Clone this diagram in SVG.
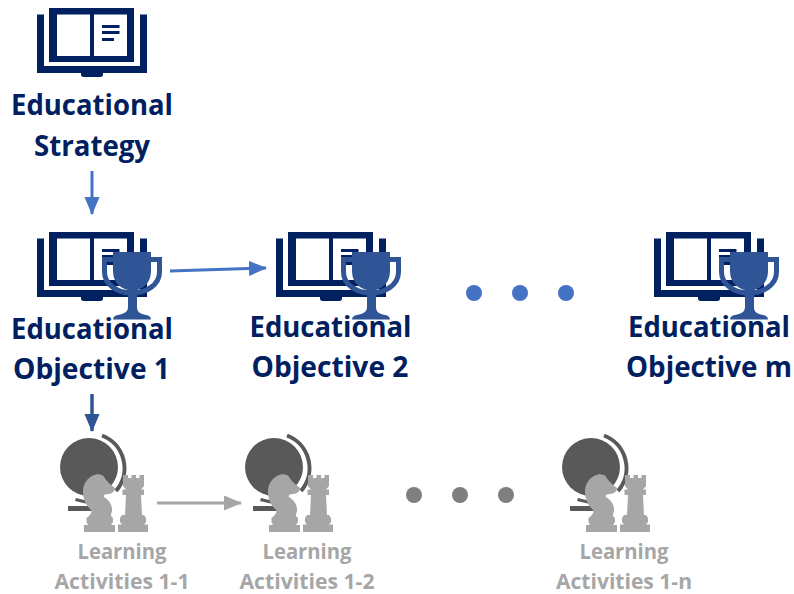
<svg xmlns="http://www.w3.org/2000/svg" width="794" height="594" viewBox="0 0 794 594">
<style>
text{font-family:"Open Sans","Noto Sans",sans-serif;font-weight:700;text-anchor:middle}
.t{font-size:28px;fill:#002060}
.l{font-size:20.500px;fill:#a6a6a6}
.nv{fill:#002060}
.bl{fill:#2f5597}
.dg{fill:#595959}
.lg{fill:#a6a6a6}
</style>
<defs>
<marker id="a1" markerUnits="userSpaceOnUse" markerWidth="20" markerHeight="16" refX="17" refY="7.500" orient="auto"><path d="M0 0L18 7.500L0 15Z" fill="#4472c4"/></marker>
<marker id="a2" markerUnits="userSpaceOnUse" markerWidth="20" markerHeight="16" refX="17" refY="7.500" orient="auto"><path d="M0 0L18 7.500L0 15Z" fill="#2f5597"/></marker>
<marker id="a3" markerUnits="userSpaceOnUse" markerWidth="20" markerHeight="16" refX="17" refY="7.500" orient="auto"><path d="M0 0L18 7.500L0 15Z" fill="#a6a6a6"/></marker>
<g id="book">
<path class="nv" fill-rule="evenodd" d="M49 8H134V62H49ZM57 14.500V56H90V14.500ZM94 14.500V56H127V14.500Z"/>
<path class="nv" d="M37 14.500H44V66H140V14.500H147V73H103V74.500Q103 77 100 77H84Q81 77 81 74.500V73H37Z"/>
<path class="nv" d="M102 25H119.500V28H102ZM102 31H119.500V34H102ZM102 38H114V41H102Z"/>
</g>
<g id="cup">
<path class="bl" d="M113 252H151V271C151 281 145 288 137 290V307C137 312 140 314 146 315C149 315.500 151 317 151 319.500H113C113 317 115 315.500 118 315C124 314 128 312 128 307V290C119 288 113 281 113 271Z"/>
<path fill="none" stroke="#2f5597" stroke-width="5" d="M113 259.500H104.500V272C104.500 285 118 293 132 293C146 293 159.500 285 159.500 272V259.500H151"/>
</g>
<g id="obj"><use href="#book" y="224"/><use href="#cup"/></g>
<g id="act">
<circle class="dg" cx="89" cy="467" r="29"/>
<path fill="none" stroke="#595959" stroke-width="4" d="M102 435.500A35 35 0 0 1 116 491"/>
<path class="dg" d="M68 506H92V511H68ZM76 498L92 502V505L75 501Z"/>
<path class="lg" d="M84 532V525H88L86.500 522V518L89 516C91 514 92 512 91 510C86 505 83 500 83 491C83 482 90 475 98 474L103 475.500C106 481 111 485 115 488C115 491 112 494 108 494C105 494 103 495 104 497C109 500 112.500 505 112 511C111.500 513 111 514 111 516L113 518V522L111 525H115V532Z"/>
<path class="lg" d="M123 475H128V478H131.500V475H136V478H139.500V475H144V486L141 489.500H144V495H141L142 515H144L146 518V522L144 524.500H148V532H118V524.500H122L120 522V518L122 515H125L126 495H122.500V489.500H126L123 486Z"/>
</g>
</defs>
<g id="connectors">
<path d="M92 171V214" stroke="#4472c4" stroke-width="3" marker-end="url(#a1)" fill="none"/>
<path d="M170 271L266 268" stroke="#4472c4" stroke-width="3" marker-end="url(#a1)" fill="none"/>
<path d="M92 394V431" stroke="#2f5597" stroke-width="3.500" marker-end="url(#a2)" fill="none"/>
<path d="M157 503H241" stroke="#a6a6a6" stroke-width="3" marker-end="url(#a3)" fill="none"/>
</g>
<g id="strategy"><use href="#book"/><text class="t" x="92" y="115" textLength="162" lengthAdjust="spacingAndGlyphs">Educational</text><text class="t" x="92" y="156" textLength="116" lengthAdjust="spacingAndGlyphs">Strategy</text></g>
<g id="objective-1"><use href="#obj"/><text class="t" x="92" y="339" textLength="162" lengthAdjust="spacingAndGlyphs">Educational</text><text class="t" x="91.500" y="379" textLength="157" lengthAdjust="spacingAndGlyphs">Objective 1</text></g>
<g id="objective-2"><use href="#obj" x="239"/><text class="t" x="330.500" y="337" textLength="162" lengthAdjust="spacingAndGlyphs">Educational</text><text class="t" x="330" y="377" textLength="157" lengthAdjust="spacingAndGlyphs">Objective 2</text></g>
<g id="objective-m"><use href="#obj" x="617"/><text class="t" x="709" y="337" textLength="162" lengthAdjust="spacingAndGlyphs">Educational</text><text class="t" x="709" y="377" textLength="166" lengthAdjust="spacingAndGlyphs">Objective m</text></g>
<g id="dots-top" fill="#4472c4"><circle cx="474" cy="293" r="8"/><circle cx="520" cy="293" r="8"/><circle cx="566" cy="293" r="8"/></g>
<g id="activity-1-1"><use href="#act"/><text class="l" x="122" y="559" textLength="89" lengthAdjust="spacingAndGlyphs">Learning</text><text class="l" x="122" y="589" textLength="135" lengthAdjust="spacingAndGlyphs">Activities 1-1</text></g>
<g id="activity-1-2"><use href="#act" x="185"/><text class="l" x="307" y="559" textLength="89" lengthAdjust="spacingAndGlyphs">Learning</text><text class="l" x="307" y="589" textLength="135" lengthAdjust="spacingAndGlyphs">Activities 1-2</text></g>
<g id="activity-1-n"><use href="#act" x="502"/><text class="l" x="624" y="559" textLength="89" lengthAdjust="spacingAndGlyphs">Learning</text><text class="l" x="624" y="589" textLength="136" lengthAdjust="spacingAndGlyphs">Activities 1-n</text></g>
<g id="dots-bottom" fill="#7f7f7f"><circle cx="414" cy="495" r="8"/><circle cx="460" cy="495" r="8"/><circle cx="506" cy="495" r="8"/></g>
</svg>
